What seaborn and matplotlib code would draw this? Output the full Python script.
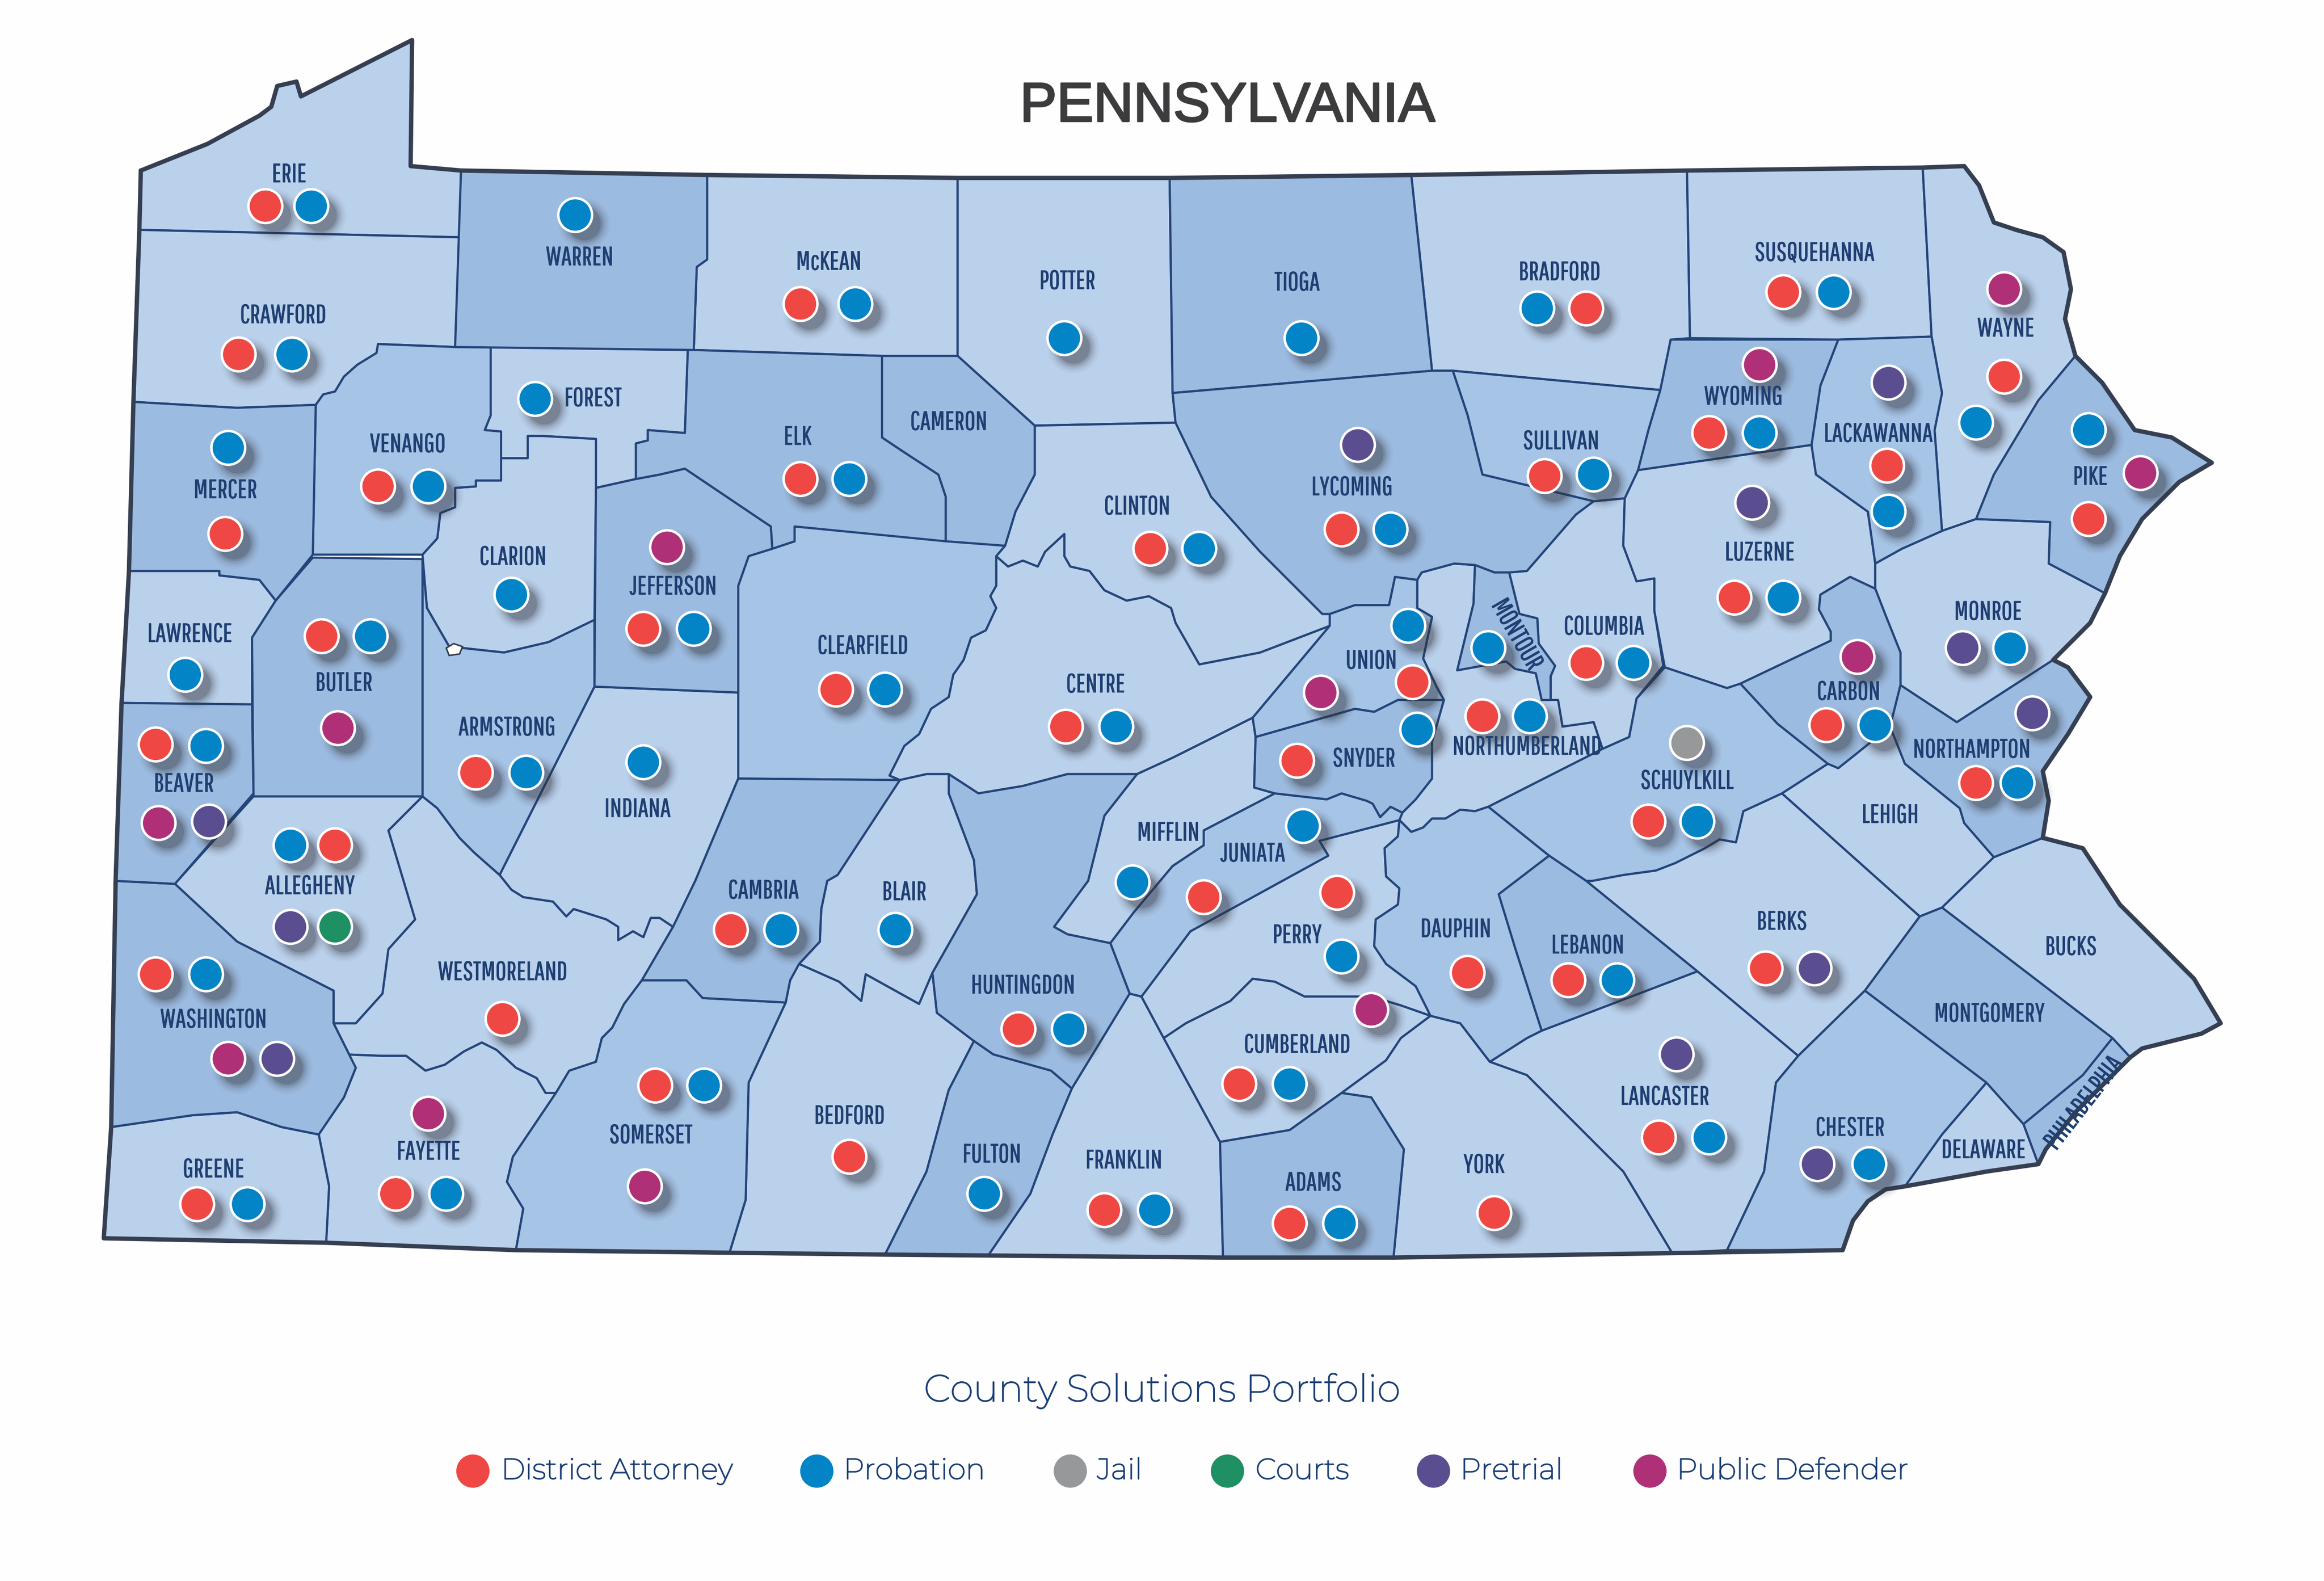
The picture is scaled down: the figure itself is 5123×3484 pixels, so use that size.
import matplotlib
matplotlib.use('Agg')
import logging
import matplotlib.patheffects as pe
import matplotlib.pyplot as plt
import pandas as pd
import seaborn as sns
from matplotlib.patches import Polygon

logging.getLogger('matplotlib.font_manager').setLevel(logging.ERROR)

# --- county outlines, in pixels of the 1568 wide map ---
ERIE = [(95,115),(140,97),(175,78),(183,72),(187,58),(200,55),(203,65),(278,27),(277,112),(311,115),(310,160),(94,155)]
CRAWFORD = [(94,155),(310,160),(307,234),(255,232),(254,238),(241,246),(232,254),(226,264),(218,266),(213,273),(160,275),(90,271)]
WARREN = [(311,115),(477,118),(477,175),(470,180),(468,236),(307,234)]
MCKEAN = [(477,118),(646,120),(646,240),(595,240),(468,236),(470,180),(477,175)]
POTTER = [(646,120),(789,120),(791,265),(793,285),(698,287),(646,240)]
TIOGA = [(789,120),(952,118),(966,250),(791,265)]
BRADFORD = [(952,118),(1138,115),(1140,228),(1127,229),(1120,263),(980,250),(966,250)]
SUSQUEHANNA = [(1138,115),(1297,113),(1303,227),(1240,229),(1140,228)]
WAYNE = [(1297,113),(1325,112),(1335,125),(1345,150),(1360,155),(1378,160),(1392,170),(1397,195),(1393,215),(1400,240),(1375,270),(1345,320),(1333,350),(1310,358),(1305,290),(1310,265),(1303,227)]
PIKE = [(1400,240),(1418,258),(1440,290),(1465,295),(1492,312),(1470,325),(1445,350),(1430,375),(1420,400),(1382,380),(1383,352),(1333,350),(1345,320),(1375,270)]
LACKAWANNA = [(1240,229),(1303,227),(1310,265),(1305,290),(1310,358),(1283,370),(1265,380),(1260,345),(1225,320),(1222,300),(1228,260)]
WYOMING = [(1127,229),(1240,229),(1228,260),(1222,300),(1105,317),(1112,290),(1120,263)]
SULLIVAN = [(980,250),(1120,263),(1112,290),(1105,317),(1096,336),(1075,338),(1000,320),(990,280)]
LYCOMING = [(791,265),(966,250),(980,250),(990,280),(1000,320),(1075,338),(1063,347),(1030,385),(1018,386),(1008,386),(995,381),(981,380),(959,386),(956,391),(941,389),(937,408),(914,408),(897,414),(892,414),(850,372),(817,335),(793,285)]
CLINTON = [(698,287),(793,285),(817,335),(850,372),(892,414),(897,414),(897,422),(850,440),(809,448),(793,420),(790,410),(775,402),(760,405),(745,398),(735,385),(722,382),(718,375),(718,360),(705,372),(700,382),(690,378),(680,382),(672,375),(678,368),(685,345),(698,320)]
CAMERON = [(595,240),(646,240),(698,287),(698,320),(685,345),(678,368),(638,365),(638,335),(633,320),(610,305),(595,295)]
ELK = [(468,236),(595,240),(595,295),(610,305),(633,320),(638,335),(638,365),(536,355),(536,365),(521,370),(520,355),(514,351),(462,316),(445,320),(429,323),(429,299),(437,297),(437,290),(462,292),(464,236)]
FOREST = [(331,234),(464,236),(462,292),(437,290),(437,297),(429,299),(429,323),(402,329),(402,296),(366,294),(356,294),(356,309),(338,309),(338,291),(327,290),(331,280)]
CLARION = [(402,296),(366,294),(356,294),(356,309),(338,309),(338,324),(321,324),(321,328),(307,329),(307,342),(297,346),(295,363),(285,374),(288,410),(303,436),(340,440),(370,433),(401,418),(402,329)]
VENANGO = [(255,232),(307,234),(331,234),(331,280),(327,290),(338,291),(338,324),(321,324),(321,328),(307,329),(307,342),(297,346),(295,363),(285,374),(211,374),(213,273),(218,266),(226,264),(232,254),(241,246),(254,238)]
MERCER = [(90,271),(160,275),(213,273),(211,374),(186,405),(175,391),(148,388),(148,385),(87,385)]
LAWRENCE = [(87,385),(148,385),(148,388),(175,391),(186,405),(170,430),(170,475),(82,474)]
BEAVER = [(82,474),(170,475),(171,535),(118,596),(78,594)]
BUTLER = [(211,376),(285,377),(285,537),(171,537),(170,430),(186,405)]
ARMSTRONG = [(285,377),(288,410),(303,436),(340,440),(370,433),(401,418),(401,463),(337,590),(320,575),(310,565),(295,545),(285,537)]
JEFFERSON = [(402,329),(429,323),(445,320),(462,316),(514,351),(520,355),(521,370),(505,375),(498,395),(498,467),(401,463)]
CLEARFIELD = [(521,370),(536,365),(536,355),(678,368),(672,375),(672,395),(668,402),(672,410),(665,425),(655,430),(650,445),(643,455),(640,470),(628,478),(620,495),(610,503),(600,523),(607,526),(498,525),(498,395),(505,375)]
INDIANA = [(401,463),(498,467),(498,525),(469,594),(454,625),(445,619),(439,619),(434,632),(427,628),(417,634),(417,625),(409,620),(387,613),(382,618),(373,608),(353,605),(345,600),(337,590)]
CAMBRIA = [(498,525),(607,526),(565,590),(558,594),(554,613),(553,635),(539,650),(533,661),(530,676),(474,673),(463,661),(433,661),(454,625),(469,594)]
BLAIR = [(607,526),(625,522),(640,522),(640,535),(657,580),(659,603),(629,656),(620,677),(584,657),(581,675),(566,662),(539,650),(553,635),(554,613),(558,594),(565,590)]
HUNTINGDON = [(640,522),(660,535),(690,530),(720,522),(767,522),(745,550),(734,594),(711,625),(720,630),(749,636),(762,670),(723,734),(709,722),(670,711),(657,702),(632,683),(629,656),(659,603),(657,580),(640,535)]
CENTRE = [(600,523),(610,503),(620,495),(628,478),(640,470),(643,455),(650,445),(655,430),(665,425),(672,410),(668,402),(672,395),(672,375),(680,382),(690,378),(700,382),(705,372),(718,360),(718,375),(722,382),(735,385),(745,398),(760,405),(775,402),(790,410),(793,420),(809,448),(850,440),(897,422),(845,484),(791,511),(767,522),(720,522),(690,530),(660,535),(640,522),(625,522),(607,526)]
MIFFLIN = [(845,484),(847,497),(846,531),(860,535),(812,560),(812,570),(791,584),(765,615),(749,636),(720,630),(711,625),(734,594),(745,550),(767,522),(791,511)]
UNION = [(897,414),(914,408),(937,408),(941,389),(956,391),(956,410),(966,416),(960,444),(969,463),(974,472),(943,472),(927,480),(914,478),(847,497),(845,484),(897,422)]
SNYDER = [(847,497),(914,478),(927,480),(943,472),(974,472),(966,500),(966,525),(955,539),(946,548),(938,544),(931,551),(926,542),(922,540),(905,535),(895,539),(860,535),(846,531)]
JUNIATA = [(860,535),(895,539),(905,535),(922,540),(926,542),(931,551),(938,544),(946,548),(944,553),(890,567),(896,577),(803,628),(770,672),(762,670),(749,636),(765,615),(791,584),(812,570),(812,560)]
PERRY = [(896,577),(890,567),(944,553),(943,564),(934,572),(935,591),(944,599),(943,610),(928,620),(927,638),(935,650),(955,665),(965,685),(945,678),(925,672),(880,672),(860,662),(845,660),(830,675),(800,690),(785,700),(770,672),(803,628)]
FRANKLIN = [(723,734),(762,670),(770,672),(785,700),(823,770),(825,848),(667,846),(695,805),(710,765)]
FULTON = [(657,702),(670,711),(709,722),(723,734),(710,765),(695,805),(667,846),(597,846),(625,790),(640,735)]
BEDFORD = [(530,676),(533,661),(539,650),(566,662),(581,675),(584,657),(620,677),(629,656),(632,683),(657,702),(640,735),(625,790),(597,846),(492,845),(503,809),(505,730)]
SOMERSET = [(433,661),(463,661),(474,673),(530,676),(505,730),(503,809),(492,845),(348,843),(353,815),(342,797),(346,780),(375,737),(384,722),(402,716),(406,700),(413,693),(421,677)]
FAYETTE = [(232,711),(258,712),(274,712),(287,722),(300,718),(313,709),(325,703),(335,708),(348,720),(362,727),(368,737),(375,737),(346,780),(342,797),(353,815),(348,843),(220,838),(222,800),(215,765),(232,740),(240,720)]
GREENE = [(75,760),(130,752),(160,750),(190,760),(215,765),(222,800),(220,838),(70,835)]
WASHINGTON = [(78,594),(118,596),(160,635),(225,668),(225,690),(240,720),(232,740),(215,765),(190,760),(160,750),(130,752),(75,760)]
ALLEGHENY = [(118,596),(171,537),(285,537),(262,560),(280,620),(262,640),(258,670),(240,690),(225,690),(225,668),(160,635)]
WESTMORELAND = [(285,537),(295,545),(310,565),(320,575),(337,590),(345,600),(353,605),(373,608),(382,618),(387,613),(409,620),(417,625),(417,634),(427,628),(434,632),(439,619),(445,619),(454,625),(433,661),(421,677),(413,693),(406,700),(402,716),(384,722),(375,737),(368,737),(362,727),(348,720),(335,708),(325,703),(313,709),(300,718),(287,722),(274,712),(258,712),(232,711),(240,720),(225,690),(240,690),(258,670),(262,640),(280,620),(262,560)]
NORTHUMBERLAND = [(956,391),(959,386),(981,380),(995,381),(994,407),(983,452),(1016,446),(1022,451),(1036,454),(1038,463),(1040,472),(1051,472),(1054,490),(1075,487),(1081,505),(1004,544),(995,547),(985,546),(975,552),(966,552),(960,558),(952,561),(944,553),(946,548),(955,539),(966,525),(966,500),(974,472),(969,463),(960,444),(966,416),(956,410)]
MONTOUR = [(995,381),(1008,386),(1018,386),(1025,414),(1037,417),(1038,434),(1049,449),(1046,456),(1046,472),(1040,472),(1038,463),(1036,454),(1022,451),(1016,446),(983,452),(994,407)]
COLUMBIA = [(1018,386),(1030,385),(1063,347),(1075,338),(1096,336),(1095,368),(1104,392),(1116,390),(1116,412),(1122,449),(1104,471),(1099,497),(1081,505),(1075,487),(1054,490),(1051,472),(1046,472),(1046,456),(1049,449),(1038,434),(1037,417),(1025,414)]
LUZERNE = [(1096,336),(1105,317),(1222,300),(1225,320),(1260,345),(1265,380),(1265,397),(1248,389),(1228,401),(1227,411),(1235,426),(1235,432),(1174,461),(1165,464),(1123,450),(1116,412),(1116,390),(1104,392),(1095,368)]
MONROE = [(1265,380),(1283,370),(1310,358),(1333,350),(1383,352),(1382,380),(1420,400),(1410,420),(1385,445),(1320,487),(1282,462),(1282,440),(1272,415),(1265,397)]
CARBON = [(1248,389),(1265,397),(1272,415),(1282,440),(1282,462),(1275,490),(1240,518),(1233,515),(1199,488),(1174,461),(1235,432),(1235,426),(1227,411),(1228,401)]
NORTHAMPTON = [(1275,490),(1282,462),(1320,487),(1385,445),(1395,450),(1410,470),(1395,495),(1378,520),(1382,540),(1378,565),(1345,578),(1325,555),(1322,545),(1285,515)]
SCHUYLKILL = [(1004,544),(1081,505),(1099,497),(1104,471),(1123,450),(1165,464),(1174,461),(1199,488),(1233,515),(1202,535),(1176,547),(1171,568),(1160,566),(1150,572),(1130,582),(1117,587),(1095,590),(1074,594),(1070,594),(1045,577)]
DAUPHIN = [(944,553),(952,561),(960,558),(966,552),(975,552),(985,546),(995,547),(1004,544),(1045,577),(1011,603),(1022,639),(1040,695),(1030,700),(1005,716),(985,690),(965,685),(955,665),(935,650),(927,638),(928,620),(943,610),(944,599),(935,591),(934,572),(943,564)]
LEBANON = [(1045,577),(1070,594),(1145,655),(1040,695),(1022,639),(1011,603)]
LANCASTER = [(1005,716),(1030,700),(1040,695),(1145,655),(1213,712),(1198,730),(1190,790),(1165,843),(1128,845),(1095,790),(1060,755),(1030,725)]
YORK = [(905,737),(935,715),(945,700),(965,685),(985,690),(1005,716),(1030,725),(1060,755),(1095,790),(1128,845),(940,848),(947,775),(925,740)]
ADAMS = [(823,770),(870,762),(905,737),(925,740),(947,775),(940,848),(825,848)]
CUMBERLAND = [(785,700),(800,690),(830,675),(845,660),(860,662),(880,672),(925,672),(945,678),(965,685),(945,700),(935,715),(905,737),(870,762),(823,770)]
BERKS = [(1070,594),(1074,594),(1095,590),(1117,587),(1130,582),(1150,572),(1160,566),(1171,568),(1176,547),(1202,535),(1295,618),(1258,668),(1213,712),(1145,655)]
LEHIGH = [(1202,535),(1233,515),(1240,518),(1275,490),(1285,515),(1322,545),(1325,555),(1345,578),(1310,612),(1295,618)]
BUCKS = [(1378,565),(1405,572),(1430,610),(1480,660),(1498,690),(1485,697),(1445,707),(1437,713),(1425,700),(1310,612),(1345,578)]
MONTGOMERY = [(1310,612),(1425,700),(1405,725),(1365,758),(1340,730),(1258,668),(1295,618)]
CHESTER = [(1258,668),(1340,730),(1310,765),(1285,800),(1272,802),(1260,810),(1250,823),(1243,843),(1165,843),(1190,790),(1198,730),(1213,712)]
DELAWARE = [(1340,730),(1365,758),(1375,785),(1340,790),(1285,800),(1310,765)]
PHILADELPHIA = [(1365,758),(1405,725),(1425,700),(1437,713),(1400,750),(1380,775),(1375,785)]
LAKE = [(301,437),(306,434),(312,436),(310,441),(303,442)]

OUTLINE = [(95,115),(140,97),(175,78),(183,72),(187,58),(200,55),(203,65),(278,27),(277,112),(311,115),(477,118),(646,120),(789,120),(952,118),(1138,115),(1297,113),(1325,112),
           (1335,125),(1345,150),(1360,155),(1378,160),(1392,170),(1397,195),(1393,215),(1400,240),(1418,258),(1440,290),(1465,295),(1492,312),(1470,325),(1445,350),(1430,375),(1420,400),(1410,420),(1385,445),(1395,450),(1410,470),(1395,495),(1378,520),(1382,540),(1378,565),(1405,572),(1430,610),(1480,660),(1498,690),(1485,697),(1445,707),(1437,713),(1400,750),(1380,775),(1375,785),(1340,790),(1285,800),(1272,802),(1260,810),(1250,823),(1243,843),(1128,845),(940,848),(825,848),(597,846),(348,843),(220,838),(70,835),(75,760),(78,594),(82,474),(87,385),(90,271),(94,155),(95,115)]

# three blues of the map
LIGHT = [ERIE, CRAWFORD, MCKEAN, POTTER, BRADFORD, SUSQUEHANNA, WAYNE, FOREST, CLARION, LAWRENCE, INDIANA, WESTMORELAND, ALLEGHENY, CENTRE, CLINTON, MIFFLIN, BLAIR, BEDFORD, FRANKLIN, FAYETTE, GREENE, PERRY, CUMBERLAND, COLUMBIA, LUZERNE, NORTHUMBERLAND, MONROE, LEHIGH, BERKS, BUCKS, LANCASTER, YORK, DELAWARE]
MEDIUM = [VENANGO, ARMSTRONG, CLEARFIELD, JUNIATA, UNION, SOMERSET, DAUPHIN, SCHUYLKILL, CHESTER, LACKAWANNA, SULLIVAN]
DARK = [WARREN, TIOGA, MERCER, JEFFERSON, BUTLER, ELK, CAMERON, LYCOMING, CAMBRIA, HUNTINGDON, FULTON, SNYDER, LEBANON, ADAMS, WASHINGTON, BEAVER, PIKE, MONTGOMERY, WYOMING, MONTOUR, CARBON, NORTHAMPTON, PHILADELPHIA]

# --- county names ---
LABEL_NAMES = ['ERIE','WARREN','McKEAN','POTTER','TIOGA','BRADFORD','SUSQUEHANNA','CRAWFORD','FOREST','VENANGO','MERCER','ELK','CAMERON','WAYNE','WYOMING','LACKAWANNA','SULLIVAN','LYCOMING','CLINTON','PIKE','CLARION','JEFFERSON','LUZERNE','LAWRENCE','CLEARFIELD','UNION','COLUMBIA','MONROE','BUTLER','CENTRE','CARBON','ARMSTRONG','NORTHUMBERLAND','NORTHAMPTON','SNYDER','SCHUYLKILL','BEAVER','INDIANA','LEHIGH','MIFFLIN','JUNIATA','ALLEGHENY','CAMBRIA','BLAIR','BERKS','PERRY','DAUPHIN','LEBANON','BUCKS','WESTMORELAND','HUNTINGDON','MONTGOMERY','WASHINGTON','CUMBERLAND','LANCASTER','BEDFORD','CHESTER','SOMERSET','DELAWARE','FAYETTE','FULTON','FRANKLIN','YORK','GREENE','ADAMS','MONTOUR','PHILADELPHIA']
LABEL_X = [195,391,559,720,875,1052,1224,191,400,275,152,538,640,1353,1176,1267,1053,912,767,1410,346,454,1187,128,582,925,1082,1341,232,739,1247,342,1030,1330,920,1138,124,430,1275,788,845,209,515,610,1202,875,982,1071,1397,339,690,1342,144,875,1123,573,1248,439,1338,289,669,758,1001,144,886,1023,1406]
LABEL_Y = [118,174,177,190,191,184,171,213,269,300,331,295,285,222,268,293,298,329,342,322,376,396,373,428,436,446,423,413,461,462,467,491,504,506,512,527,529,546,550,562,576,598,601,602,622,631,627,638,639,656,665,684,688,705,740,753,761,766,776,777,779,783,786,789,798,428,744]
LABEL_ROT = {'MONTOUR': -60, 'PHILADELPHIA': 52}

# --- solutions per county ---
DISTRICT_ATTORNEY = [(179,139),(540,205),(161,239),(255,328),(152,360),(540,323),(776,370),(905,357),(1070,208),(1203,197),(1352,254),(1153,292),(1042,321),(1273,314),(1409,350),(217,429),(434,424),(564,465),(719,490),(321,521),(105,502),(226,570),(1170,403),(1070,447),(953,460),(1000,483),(875,513),(1232,489),(1333,528),(1112,554),(902,602),(812,605),(493,627),(990,656),(1058,661),(1191,653),(687,694),(105,657),(339,687),(836,731),(442,732),(1119,767),(267,805),(133,812),(573,780),(745,816),(870,825),(1008,818)]
PROBATION = [(210,139),(388,145),(577,205),(718,228),(878,228),(1037,208),(1237,197),(197,239),(361,269),(154,302),(289,328),(573,323),(1333,285),(1187,292),(1075,320),(1409,290),(1274,345),(809,370),(938,357),(345,401),(250,429),(468,424),(1203,403),(950,422),(1004,437),(1102,447),(1356,437),(125,455),(597,465),(753,490),(1032,483),(956,492),(1265,489),(139,503),(434,514),(355,521),(1361,528),(1145,554),(879,557),(196,570),(764,595),(604,627),(527,627),(905,645),(1091,661),(139,657),(721,694),(870,731),(475,732),(1153,767),(1261,785),(301,805),(664,805),(167,812),(779,816),(904,825)]
JAIL = [(1138,501)]
COURTS = [(226,625)]
PRETRIAL = [(916,300),(1274,258),(1182,339),(1324,437),(1371,481),(141,554),(196,625),(1224,653),(187,714),(1131,711),(1226,785)]
PUBLIC_DEFENDER = [(1352,195),(1187,246),(1444,319),(450,369),(1253,443),(891,467),(228,491),(107,555),(925,681),(154,714),(289,751),(435,800)]

SOLUTIONS = ['District Attorney','Probation','Jail','Courts','Pretrial','Public Defender']
SOLUTION_POINTS = [DISTRICT_ATTORNEY, PROBATION, JAIL, COURTS, PRETRIAL, PUBLIC_DEFENDER]
SOLUTION_COLORS = ['#EF4844','#0284C7','#97989A','#1E9063','#5A4E90','#B03078']
LEGEND_DOT_X = [319,551,722,828,967,1113]
LEGEND_TEXT_X = [338,569,740,847,985,1131]

# --- build tables ---
rows = []
for name, pts in zip(SOLUTIONS, SOLUTION_POINTS):
    for x, y in pts:
        rows.append({'x': x, 'y': y, 'solution': name})
dots = pd.DataFrame(rows)
palette = dict(zip(SOLUTIONS, SOLUTION_COLORS))
legend_dots = pd.DataFrame({'x': LEGEND_DOT_X, 'y': [992] * 6, 'solution': SOLUTIONS})

# --- plot ---
sns.set_theme(style='white')
plt.rcParams['font.family'] = ['Liberation Sans', 'DejaVu Sans']
NARROW = ['Pathway Gothic One', 'Archivo Narrow', 'Liberation Sans']
WIDE = ['Montserrat', 'Inter', 'DejaVu Sans']
NAVY = '#1B3F75'

W, H = 1568, 1066.1
fig = plt.figure(figsize=(5124 / 300, 3484 / 300), dpi=300, facecolor='#FEFEFE')
ax = fig.add_axes([0, 0, 1, 1])

for group, color in [(LIGHT, '#BAD1EC'), (MEDIUM, '#A6C4E6'), (DARK, '#9CBBE0')]:
    for verts in group:
        ax.add_patch(Polygon(verts, closed=True, facecolor=color, edgecolor='#24457A', linewidth=1.15, joinstyle='round', zorder=1))
ax.add_patch(Polygon(LAKE, closed=True, facecolor='white', edgecolor='#333B4A', linewidth=0.8, zorder=2))

ox, oy = zip(*OUTLINE)
ax.plot(ox, oy, color='#363F52', linewidth=2.3, solid_joinstyle='round', zorder=3)

# soft shadow under the dots
shadow = dots.assign(x=dots['x'] + 6, y=dots['y'] + 6)
for size, alpha in [(760, 0.035), (640, 0.05), (540, 0.07), (450, 0.10), (370, 0.14), (300, 0.2)]:
    sns.scatterplot(data=shadow, x='x', y='y', s=size, color='#33343A', alpha=alpha, linewidth=0, legend=False, ax=ax, zorder=4)

sns.scatterplot(data=dots, x='x', y='y', hue='solution', palette=palette, s=320, edgecolor='white', linewidth=1.3, legend=False, ax=ax, zorder=5)
sns.scatterplot(data=legend_dots, x='x', y='y', hue='solution', palette=palette, s=310, linewidth=0, legend=False, ax=ax, zorder=5)
ax.set_xlim(0, W)
ax.set_ylim(H, 0)
ax.axis('off')

for name, x, y in zip(LABEL_NAMES, LABEL_X, LABEL_Y):
    t = ax.text(x, y, name, ha='center', va='center', fontsize=14, rotation=LABEL_ROT.get(name, 0), rotation_mode='anchor',
                color='#1F3F72', family=NARROW, zorder=6)
    t.set_path_effects([pe.withStroke(linewidth=0.2, foreground='#1F3F72')])

title = ax.text(828, 72, 'PENNSYLVANIA', ha='center', va='center', fontsize=29.2, color='#3C3C3E', family=['Liberation Sans'], zorder=6)
title.set_path_effects([pe.withStroke(linewidth=0.9, foreground='#3C3C3E')])

# the Montserrat file is a thin cut, a fine stroke brings it to regular weight
regular = [pe.withStroke(linewidth=0.55, foreground=NAVY)]
ax.text(784, 938, 'County Solutions Portfolio', ha='center', va='center', fontsize=19.9, color=NAVY, family=WIDE, zorder=6, path_effects=regular)
for name, x in zip(SOLUTIONS, LEGEND_TEXT_X):
    ax.text(x, 992, name, ha='left', va='center', fontsize=15.4, color=NAVY, family=WIDE, zorder=6, path_effects=regular)

fig.savefig('out.png', dpi=300, facecolor=fig.get_facecolor())
